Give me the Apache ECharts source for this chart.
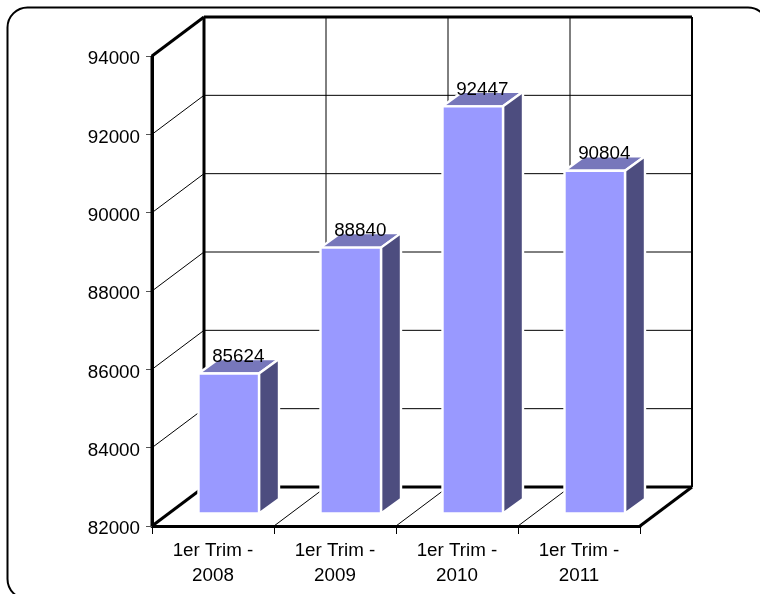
<!DOCTYPE html>
<html><head><meta charset="utf-8">
<style>html,body{margin:0;padding:0;background:#fff}#c{width:760px;height:594px}</style>
<script src="https://cdn.jsdelivr.net/npm/echarts@6/dist/echarts.min.js"></script>
</head><body><div id="c"></div>
<script>
const categories = ['1er Trim -\n2008','1er Trim -\n2009','1er Trim -\n2010','1er Trim -\n2011'];
const values = [85624, 88840, 92447, 90804];
const yMin = 82000, yMax = 94000, yStep = 2000;
const yTicks = [82000,84000,86000,88000,90000,92000,94000];

const DX = 52, DY = -39;           // wall depth
const FONT = '"Liberation Sans", Arial, sans-serif';
const chart = echarts.init(document.getElementById('c'), null, {renderer:'canvas'});

function wallH(params, api){
  const v = api.value(0);
  const a = api.coord([0, v]);
  const size = api.size([1,0]);
  const left = a[0] - size[0]/2;
  const right = left + size[0]*categories.length;
  const y = a[1];
  const thick = v === yMin || v === yMax;
  const color = '#000';
  return {type:'group', children:[
    {type:'line', shape:{x1:left,y1:y,x2:left+DX,y2:y+DY}, style:{stroke:color,lineWidth:thick?3:1}},
    {type:'line', shape:{x1:left+DX,y1:y+DY,x2:right+DX,y2:y+DY}, style:{stroke:color,lineWidth:thick?3:1}}
  ]};
}
function wallV(params, api){
  const i = api.value(0);
  const c = api.coord([i, yMin]);
  const t = api.coord([i, yMax]);
  const w = api.size([1,0])[0];
  const x = c[0] + w/2;
  const last = i === categories.length-1;
  const children = [];
  if (i === 0) {
    const x0 = c[0]-w/2;
    children.push({type:'line', shape:{x1:x0+DX,y1:c[1]+DY,x2:x0+DX,y2:t[1]+DY}, style:{stroke:'#000',lineWidth:3}});
    children.push({type:'line', shape:{x1:x0,y1:c[1],x2:x0,y2:t[1]}, style:{stroke:'#000',lineWidth:3}});
  }
  children.push({type:'line', shape:{x1:x+DX,y1:c[1]+DY,x2:x+DX,y2:t[1]+DY}, style:{stroke:'#000',lineWidth:last?2:1}});
  children.push({type:'line', shape:{x1:x,y1:c[1],x2:x+DX,y2:c[1]+DY}, style:{stroke:'#000',lineWidth:last?3:1}});
  return {type:'group', children};
}
function bar(params, api){
  const i = api.value(0), v = api.value(1);
  const w = api.size([1,0])[0];
  const p = api.coord([i, v]);
  const b = api.coord([i, yMin]);
  const x0 = p[0] - w/2 + 46.5, x1 = x0 + 60.5;
  const top = p[1] - 10.5, bot = b[1] - 12.5;
  const ox = 20, oy = -14.5;
  const st = {stroke:'#fff', lineWidth:2.4, lineJoin:'round'};
  return {type:'group', children:[
    {type:'polygon', shape:{points:[[x0,top],[x0+ox,top+oy],[x1+ox,top+oy],[x1,top]]}, style:{fill:'#7777bb',...st}},
    {type:'polygon', shape:{points:[[x1,top],[x1+ox,top+oy],[x1+ox,bot+oy],[x1,bot]]}, style:{fill:'#4d4d7f',...st}},
    {type:'rect', shape:{x:x0,y:top,width:x1-x0,height:bot-top}, style:{fill:'#9999ff',...st}},
    {type:'text', style:{text:String(v), x:(x0+x1)/2+9.5, y:top-17, align:'center', verticalAlign:'middle',
      fill:'#000', font:'18.8px '+FONT}, z2:10}
  ]};
}

chart.setOption({
  animation:false,
  backgroundColor:'#fff',
  graphic:[{type:'rect', z:-10, silent:true,
    shape:{x:7.5,y:7.5,width:760.5,height:591.5,r:20},
    style:{fill:'#fff',stroke:'#000',lineWidth:2}}],
  grid:{left:152,top:56,width:488,height:470,containLabel:false},
  xAxis:{type:'category',data:categories,boundaryGap:true,
    axisLine:{show:true,lineStyle:{color:'#000',width:3}},
    axisTick:{show:true,length:8,lineStyle:{color:'#000',width:1}},
    axisLabel:{color:'#000',fontFamily:FONT,fontSize:18.8,lineHeight:25,margin:12,interval:0},
    splitLine:{show:false}},
  yAxis:{type:'value',min:yMin,max:yMax,interval:yStep,
    axisLine:{show:true,lineStyle:{color:'#000',width:3}},
    axisTick:{show:true,length:6,lineStyle:{color:'#555',width:1}},
    axisLabel:{color:'#000',fontFamily:FONT,fontSize:18.8,margin:12,verticalAlign:'top',lineHeight:6,
      formatter:v=>String(v)},
    splitLine:{show:false}},
  series:[
    {type:'custom',name:'wallH',z:1,silent:true,renderItem:wallH,data:yTicks.map(v=>[v]),
      encode:{y:0},coordinateSystem:'cartesian2d'},
    {type:'custom',name:'wallV',z:1,silent:true,renderItem:wallV,data:categories.map((c,i)=>[i]),
      encode:{x:0},coordinateSystem:'cartesian2d'},
    {type:'custom',name:'bars',z:3,silent:true,renderItem:bar,data:values.map((v,i)=>[i,v]),
      encode:{x:0,y:1}}
  ]
});
</script></body></html>
